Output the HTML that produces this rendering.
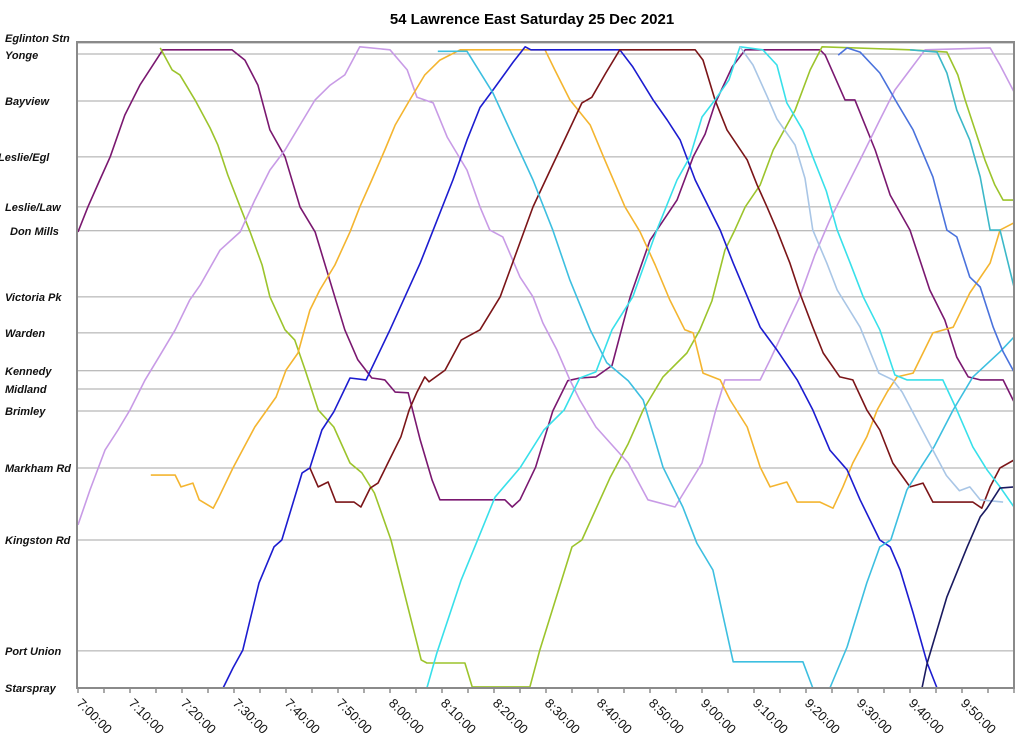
<!DOCTYPE html>
<html><head><meta charset="utf-8"><style>
html,body{margin:0;padding:0;background:#fff;}
body{width:1024px;height:749px;overflow:hidden;font-family:"Liberation Sans",Arial,sans-serif;}
</style></head><body>
<svg id="chart" width="1024" height="749" xmlns="http://www.w3.org/2000/svg">
<text x="532" y="24" text-anchor="middle" font-family="Liberation Sans, Arial, sans-serif" font-weight="bold" font-size="15">54 Lawrence East Saturday 25 Dec 2021</text>
<g id="grid"></g>
<g id="ylabels"></g>
<g id="xaxis"></g>
<g id="series"></g>
<rect x="77" y="42" width="937" height="646" fill="none" stroke="#8a8a8a" stroke-width="2"/>
</svg>
<script>
const stopNames=["Eglinton Stn","Yonge","Bayview","Leslie/Egl","Leslie/Law","Don Mills","Victoria Pk","Warden","Kennedy","Midland","Brimley","Markham Rd","Kingston Rd","Port Union","Starspray"];
const stopKm=[17.0,16.71,15.47,14.0,12.68,12.05,10.31,9.36,8.36,7.88,7.30,5.80,3.90,0.98,0];
const stopLabelX=[5,5,5,-2,5,10,5,5,5,5,5,5,5,5,5];
const tickMinutes=[0,5,10,15,20,25,30,35,40,45,50,55,60,65,70,75,80,85,90,95,100,105,110,115,120,125,130,135,140,145,150,155,160,165,170,175,180];
const tickLabels=["7:00:00","7:10:00","7:20:00","7:30:00","7:40:00","7:50:00","8:00:00","8:10:00","8:20:00","8:30:00","8:40:00","8:50:00","9:00:00","9:10:00","9:20:00","9:30:00","9:40:00","9:50:00"];
const tickLabelMinutes=[0,10,20,30,40,50,60,70,80,90,100,110,120,130,140,150,160,170];
const tripColors=["#7a1870","#9cc42c","#c89be6","#f4b530","#1c1cd0","#7b1518","#38e0ea","#3dbfe0","#a9c6e6","#4a72dc","#3cb8c8","#1a1a60"];
const tripA=[[0,12.02],[1.9,12.68],[4.2,13.39],[6.2,14.0],[9,15.1],[11.9,15.89],[16.3,16.82],[29.6,16.82],[32.1,16.55],[34.6,15.89],[36.9,14.71],[39.8,14.0],[42.7,12.68],[45.6,12.02],[51.3,9.44],[53.8,8.65],[56.5,8.17],[59,8.12],[61,7.8],[63.5,7.78],[65.8,6.54],[68.1,5.48],[69.6,4.96],[82.1,4.96],[83.5,4.77],[85,4.96],[88,5.82],[91.3,7.3],[94.2,8.1],[96.5,8.17],[99.6,8.2],[102.7,8.5],[106.2,10.31],[110,11.8],[115.2,12.86],[118.3,14.0],[120.6,14.6],[122.5,15.4],[125.8,16.37],[128.3,16.82],[142.7,16.82],[143.7,16.68],[147.5,15.5],[149.4,15.5],[153.3,14.18],[156.2,12.99],[160,12.07],[163.8,10.49],[166.7,9.7],[169,8.72],[171.2,8.2],[173.5,8.12],[177.9,8.12],[180,7.54]];
const tripB=[[15.8,16.87],[18.1,16.29],[19.6,16.16],[22.5,15.5],[25.4,14.76],[26.9,14.31],[28.8,13.52],[31.2,12.68],[33.1,12.02],[35.4,11.15],[36.9,10.31],[39.8,9.44],[41.7,9.17],[43.7,8.38],[46.2,7.33],[49.2,6.88],[52.3,5.93],[54.6,5.67],[57,5.14],[60.2,3.9],[66,0.74],[67.1,0.66],[74.4,0.66],[75.8,0.03],[86.9,0.03],[88.8,1.0],[95,3.72],[96.9,3.9],[102.3,5.54],[105.8,6.44],[108.7,7.33],[112.5,8.2],[117.1,8.83],[119.6,9.44],[121.9,10.2],[124.4,11.54],[126.3,12.07],[128.3,12.68],[131.2,13.26],[133.7,14.18],[137.9,15.23],[140.8,16.29],[143.1,16.9],[160,16.82],[167.1,16.76],[169.2,16.16],[170.6,15.5],[172.5,14.71],[174.4,13.92],[176.3,13.26],[177.9,12.86],[180,12.86]];
const tripC=[[0,4.3],[2.3,5.22],[5.2,6.27],[7.7,6.8],[10,7.33],[12.9,8.12],[15.8,8.78],[18.7,9.44],[21.5,10.23],[23.5,10.62],[27.3,11.54],[31.2,12.02],[34,12.86],[36.9,13.65],[39.8,14.18],[42.7,14.84],[45.6,15.5],[48.5,15.89],[51.3,16.16],[54.2,16.9],[60,16.82],[63.3,16.29],[65.2,15.57],[68.3,15.42],[71,14.52],[74.8,13.65],[77.3,12.68],[79.2,12.07],[81.7,11.89],[85,10.83],[87.5,10.31],[89.4,9.62],[92.1,8.91],[94.6,8.12],[96.5,7.59],[99.6,6.88],[105.8,5.93],[109.6,4.96],[114.8,4.77],[120,5.93],[122.5,7.25],[124.4,8.12],[131.2,8.12],[133.1,8.65],[135.8,9.44],[138.8,10.31],[141.7,11.41],[144.6,12.34],[147.5,13.13],[150.4,13.92],[154.2,14.97],[157.1,15.76],[160,16.29],[162.9,16.82],[175.4,16.87],[177.3,16.42],[180,15.71]];
const tripD=[[14,5.61],[18.7,5.61],[19.8,5.3],[22.1,5.4],[23.3,4.96],[26,4.74],[27.1,5.03],[29.8,5.8],[34,6.88],[38.1,7.67],[40,8.38],[42.3,8.83],[44.6,9.96],[46.5,10.49],[49.4,11.15],[52.3,12.02],[54.2,12.68],[56.5,13.39],[59,14.18],[61,14.84],[63.8,15.5],[66.7,16.16],[69.6,16.55],[73.5,16.82],[89.8,16.82],[91.7,16.29],[94.6,15.5],[98.5,14.84],[101.3,13.92],[105.2,12.68],[108.1,12.02],[111,11.15],[113.8,10.23],[116.7,9.44],[118.3,9.36],[120.2,8.3],[123.5,8.12],[125.4,7.59],[128.7,6.88],[131.2,5.82],[133.1,5.3],[136.3,5.43],[138.3,4.9],[142.7,4.9],[145.2,4.74],[147.1,5.3],[149,5.93],[151.7,6.62],[153.7,7.33],[155.6,7.8],[157.5,8.2],[160.6,8.3],[164.4,9.36],[168.3,9.51],[171.5,10.41],[175.4,11.2],[177.3,12.07],[180,12.26]];
const tripE=[[27.9,0],[29.8,0.53],[31.7,1.0],[34.8,2.77],[37.7,3.72],[39.2,3.9],[43.1,5.67],[44.6,5.8],[46.9,6.8],[49.2,7.28],[52.3,8.17],[55.4,8.12],[60,9.44],[65.8,11.2],[68.3,12.07],[72.1,13.39],[74.8,14.44],[77.3,15.3],[79.8,15.76],[83.7,16.5],[86,16.9],[87.1,16.82],[104.2,16.82],[106.7,16.37],[110.6,15.5],[113.3,14.97],[115.8,14.44],[118.7,13.39],[123.5,12.07],[126,11.2],[131.2,9.51],[134.4,8.91],[138.3,8.12],[141.3,7.33],[144.6,6.27],[147.9,5.75],[150.4,4.96],[154.2,3.9],[156.2,3.72],[158.1,3.11],[160.6,1.98],[163.3,0.66],[165.2,0],[180,0]];
const tripF=[[44.6,5.8],[46.2,5.3],[48.1,5.43],[49.6,4.9],[53.1,4.9],[54.4,4.77],[56.2,5.27],[57.7,5.4],[59.6,5.93],[62.1,6.62],[63.7,7.33],[65.2,7.8],[66.7,8.2],[67.5,8.07],[70.6,8.38],[73.7,9.17],[77.3,9.44],[81.2,10.31],[87.5,12.68],[90.8,13.65],[93.8,14.52],[96.9,15.42],[98.8,15.57],[101.5,16.21],[104.2,16.82],[118.7,16.82],[120.2,16.55],[122.5,15.5],[124.8,14.71],[128.7,13.92],[130.6,13.26],[132.5,12.68],[134.4,12.07],[136.9,11.2],[138.8,10.41],[141.3,9.51],[143.3,8.83],[146.5,8.2],[149,8.12],[151.7,7.33],[154.2,6.8],[156.7,5.93],[160,5.3],[162.5,5.4],[164.4,4.9],[172.1,4.9],[173.8,4.74],[175.4,5.3],[177.3,5.8],[180,6.01]];
const tripG1=[[67.1,0],[69,0.92],[73.7,2.85],[76.7,3.85],[80.2,5.03],[85,5.8],[89.6,6.8],[93.5,7.33],[96.5,8.17],[99.6,8.33],[102.7,9.44],[106.7,10.31],[111.3,12.07],[115.2,13.39],[117.7,14.0],[120,15.05],[122.5,15.5],[125.2,16.03],[127.3,16.9],[131.7,16.82],[134.4,16.42],[136.3,15.42],[139.4,14.7],[141.3,14.0],[143.9,13.1],[146,12.07],[148.5,11.2],[151,10.31],[154.2,9.44],[157.1,8.25],[159.4,8.12],[166.3,8.12],[169,7.33],[172.1,6.35],[174.8,5.75],[177.3,5.3],[180,4.77]];
const tripG2=[[69.2,16.78],[74.8,16.78],[79.8,15.68],[83.7,14.52],[87.5,13.39],[91.3,12.07],[94.6,10.75],[98.5,9.44],[101.7,8.57],[105.8,8.1],[108.7,7.59],[112.5,5.82],[116.3,4.77],[119,3.82],[122.1,3.11],[126,0.69],[139.4,0.69],[141.3,0],[144.6,0],[147.9,1.08],[151.7,2.77],[154.2,3.72],[156.3,3.9],[159.4,5.22],[162,5.8],[164.6,6.35],[168.3,7.33],[172.1,8.2],[177.3,8.86],[180,9.25]];
const tripH=[[127.3,16.9],[129.8,16.42],[132.5,15.6],[134.4,15.0],[137.9,14.31],[139.8,13.43],[141.3,12.07],[144,11.2],[146,10.49],[150.4,9.51],[154,8.3],[156.7,8.12],[158.5,7.8],[163.5,6.5],[167,5.6],[169.5,5.2],[171.5,5.3],[173.5,4.96],[177.9,4.9]];
const tripI=[[146.2,16.68],[147.9,16.87],[150.4,16.76],[154.2,16.21],[157.5,15.42],[160.6,14.71],[164.4,13.47],[167.1,12.07],[169,11.89],[171.5,10.83],[173.5,10.57],[176,9.51],[177.9,8.86],[180,8.33]];
const tripJ=[[160,16.82],[165.2,16.76],[167.1,16.21],[169,15.23],[171.5,14.44],[173.5,13.47],[175.4,12.07],[177.3,12.07],[180,10.57]];
const tripK=[[162.3,0],[163.3,0.66],[167.1,2.4],[171,3.72],[173.5,4.51],[174.8,4.74],[177.3,5.27],[180,5.3]];
const trips=[tripA,tripB,tripC,tripD,tripE,tripF,tripG1,tripG2,tripH,tripI,tripJ,tripK];
const tripNames=["trip-purple","trip-green","trip-lavender","trip-orange","trip-blue","trip-maroon","trip-cyan","trip-sky","trip-lightblue","trip-mediumblue","trip-teal","trip-navy"];

const NS="http://www.w3.org/2000/svg";
const X0=78,X1=1014,Y0=688,Y1=43,MMAX=180,KMAX=17;
function xs(m){return X0+(m/MMAX)*(X1-X0);}
function ys(k){return Y0-(k/KMAX)*(Y0-Y1);}
function mk(t,attrs,parent){const e=document.createElementNS(NS,t);for(const k in attrs)e.setAttribute(k,attrs[k]);parent.appendChild(e);return e;}
const grid=document.getElementById('grid'),yl=document.getElementById('ylabels'),xa=document.getElementById('xaxis'),ser=document.getElementById('series');
stopNames.forEach((n,i)=>{
  const y=ys(stopKm[i]);
  const g=mk('line',{x1:X0,x2:X1,y1:y,y2:y,stroke:'#a6a6a6','stroke-width':1},grid);
  
  
  const t=mk('text',{x:stopLabelX[i],y:y+(i===0?-1:(i===1?5:4)),'font-size':11,'font-weight':'bold','font-style':'italic','font-family':'Liberation Sans, Arial, sans-serif',fill:'#111'},yl);
  t.textContent=n;
  
  
});
tickMinutes.forEach(m=>{
  const x=xs(m);
  const l=mk('line',{x1:x,x2:x,y1:Y0,y2:Y0+5,stroke:'#555','stroke-width':1},xa);
  
  
});
tickLabelMinutes.forEach((m,i)=>{
  const x=xs(m);
  const t=mk('text',{x:0,y:0,'font-size':13,'font-family':'Liberation Sans, Arial, sans-serif',fill:'#111',transform:'translate('+(x-2)+','+(Y0+16)+') rotate(45)'},xa);
  t.textContent=tickLabels[i];
  
  
});
trips.forEach((tr,i)=>{
  const d=tr.map((p,j)=>(j?'L':'M')+xs(p[0]).toFixed(1)+','+ys(p[1]).toFixed(1)).join('');
  const p=mk('path',{d:d,fill:'none',stroke:tripColors[i],'stroke-width':1.6,'stroke-linejoin':'round'},ser);
  
  
});
</script>
</body></html>
